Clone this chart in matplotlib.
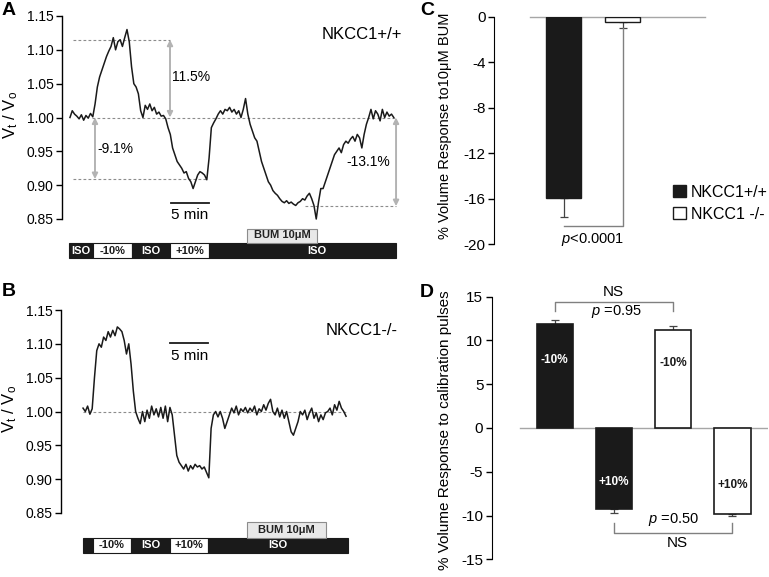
"""Cell volume traces (NKCC1 +/+ and -/-) with BUM / calibration bar summaries."""

import numpy as np
import matplotlib.pyplot as plt
from matplotlib.patches import Rectangle

plt.rcParams['font.family'] = ['Liberation Sans', 'DejaVu Sans']
plt.rcParams['mathtext.fontset'] = 'custom'
plt.rcParams['mathtext.rm'] = 'Liberation Sans'
plt.rcParams['mathtext.it'] = 'Liberation Sans:italic'
plt.rcParams['axes.unicode_minus'] = False

# ---- traces, V_t / V_0 sampled every 0.3 min ----
sample_min = 0.3
trace_a_start = 0.13
trace_a = [
    1.000, 1.010, 1.005, 1.002, 0.998, 1.004, 0.996, 1.003, 0.999, 1.006,
    1.001, 1.020, 1.045, 1.060, 1.070, 1.080, 1.090, 1.098, 1.105, 1.118,
    1.100, 1.112, 1.115, 1.105, 1.118, 1.130, 1.112, 1.075, 1.050, 1.045,
    1.035, 1.010, 1.000, 1.018, 1.012, 1.020, 1.010, 1.015, 1.005, 1.008,
    1.002, 1.003, 0.998, 0.985, 0.975, 0.955, 0.945, 0.935, 0.930, 0.925,
    0.918, 0.920, 0.910, 0.905, 0.895, 0.905, 0.915, 0.920, 0.918, 0.915,
    0.908, 0.940, 0.985, 0.992, 0.998, 1.005, 1.010, 1.005, 1.012, 1.010,
    1.015, 1.008, 1.012, 1.005, 1.010, 1.000, 1.012, 1.028, 1.005, 0.990,
    0.980, 0.970, 0.965, 0.950, 0.935, 0.925, 0.915, 0.905, 0.900, 0.892,
    0.888, 0.885, 0.880, 0.876, 0.874, 0.877, 0.873, 0.875, 0.872, 0.870,
    0.874, 0.876, 0.880, 0.878, 0.884, 0.888, 0.880, 0.870, 0.850, 0.875,
    0.895, 0.895, 0.905, 0.915, 0.925, 0.935, 0.945, 0.950, 0.955, 0.948,
    0.960, 0.965, 0.962, 0.968, 0.972, 0.965, 0.975, 0.970, 0.955, 0.975,
    0.990, 1.000, 1.012, 0.998, 1.010, 1.005, 0.995, 1.012, 1.000, 1.008,
    1.002, 1.005, 1.000,
]
trace_b_start = 1.97
trace_b = [
    1.005, 1.000, 1.008, 0.996, 1.004, 1.050, 1.090, 1.100, 1.095, 1.110,
    1.105, 1.118, 1.110, 1.120, 1.112, 1.125, 1.122, 1.118, 1.105, 1.085,
    1.100, 1.070, 1.030, 1.000, 0.990, 0.982, 1.000, 0.985, 1.002, 0.990,
    1.008, 0.995, 1.004, 0.992, 1.006, 0.990, 1.008, 0.985, 1.006, 0.995,
    0.965, 0.935, 0.925, 0.920, 0.915, 0.922, 0.912, 0.920, 0.915, 0.922,
    0.918, 0.920, 0.915, 0.918, 0.910, 0.902, 0.975, 0.995, 1.000, 0.992,
    1.000, 0.990, 0.975, 0.985, 0.995, 1.005, 0.998, 1.008, 0.995, 1.004,
    1.000, 1.006, 0.998, 1.005, 1.000, 1.008, 0.995, 1.004, 1.000, 1.010,
    1.002, 1.012, 1.018, 1.000, 0.995, 1.005, 0.992, 1.002, 0.990, 1.000,
    0.985, 0.970, 0.965, 0.975, 0.985, 1.000, 0.995, 1.002, 0.988, 0.998,
    1.005, 0.990, 0.998, 0.985, 0.995, 0.988, 0.998, 1.000, 1.005, 0.995,
    1.010, 1.002, 1.015, 1.005, 1.000, 0.993,
]

# ---- perfusion protocol (minutes) ----
proto_a_labels = ["ISO", "-10%", "ISO", "+10%", "ISO"]
proto_a_edges = [0.0, 3.16, 8.29, 13.29, 18.42, 43.03]
proto_a_text_t = [1.58, 5.72, 10.79, 15.86, 32.6]
bum_a = [23.42, 32.63]

proto_b_labels = ["", "-10%", "ISO", "+10%", "ISO"]
proto_b_edges = [1.84, 3.16, 8.16, 13.29, 18.29, 36.71]
proto_b_text_t = [2.5, 5.66, 10.72, 15.79, 27.5]
bum_b = [23.42, 33.82]

# ---- levels marked on trace A ----
peak_level = 1.115
shrink_level = 0.909
bum_level = 0.869

# ---- panel C: response to BUM ----
c_groups = ["NKCC1+/+", "NKCC1 -/-"]
c_values = [-15.9, -0.5]
c_err = [1.7, 0.5]

# ---- panel D: calibration pulses ----
d_labels = ["-10%", "+10%", "-10%", "+10%"]
d_values = [11.85, -9.3, 11.17, -9.78]
d_err = [0.5, 0.37, 0.5, 0.33]

DARK = '#1a1a1a'
W, H = 769, 577
fig = plt.figure(figsize=(W / 100, H / 100), dpi=100)


def px_axes(left, top, right, bottom):
    return fig.add_axes([left / W, 1 - bottom / H, (right - left) / W, (bottom - top) / H])


def style_trace_axes(ax):
    ax.set_xlim(-0.92, 43.55)
    ax.set_ylim(0.85, 1.15)
    ax.set_yticks(np.arange(0.85, 1.151, 0.05))
    ax.set_yticklabels([f"{v:.2f}" for v in np.arange(0.85, 1.151, 0.05)])
    for s in ('top', 'right', 'bottom'):
        ax.spines[s].set_visible(False)
    ax.spines['left'].set_linewidth(1.0)
    ax.set_xticks([])
    ax.tick_params(axis='y', direction='out', length=4, width=1, labelsize=10, pad=2)
    ax.set_ylabel(r"V$_{\rm t}$ / V$_{\rm o}$", fontsize=12)
    ax.yaxis.set_label_coords(-0.125, 0.51)


def draw_protocol(ax, edges, labels, text_t, bum, y0, h):
    ax.set_xlim(-0.92, 43.55)
    ax.set_ylim(0, 2 * y0 + 2 * h)
    ax.axis('off')
    for i, lab in enumerate(labels):
        dark = lab in ("ISO", "")
        ax.add_patch(Rectangle((edges[i], y0), edges[i + 1] - edges[i], h,
                               fc=DARK if dark else 'white', ec=DARK, lw=0.8))
        ax.text(text_t[i], y0 + h / 2, lab, color='white' if dark else DARK,
                ha='center', va='center', fontsize=8, fontweight='bold')
    ax.add_patch(Rectangle((bum[0], y0 + h), bum[1] - bum[0], h - 0.5,
                           fc='#e8e8e8', ec='#8c8c8c', lw=0.8))
    ax.text((bum[0] + bum[1]) / 2, y0 + 1.5 * h, "BUM 10\u03bcM", color='#222222',
            ha='center', va='center', fontsize=8, fontweight='bold')


def scale_bar(ax, y_line, y_text):
    ax.plot([13.42, 18.42], [y_line, y_line], color=DARK, lw=1.3, clip_on=False)
    ax.text(15.92, y_text, "5 min", ha='center', va='center', fontsize=11)


dash = dict(color='#8c8c8c', lw=0.8, ls=(0, (2.5, 2)))
arrow = dict(arrowstyle='<|-|>', color='#b3b3b3', lw=1.4, mutation_scale=8,
             shrinkA=0, shrinkB=0)

# ---------------- panel A ----------------
ax_a = px_axes(62, 16, 400, 219)
t_a = trace_a_start + sample_min * np.arange(len(trace_a))
ax_a.plot([0.53, 13.29], [peak_level] * 2, **dash)
ax_a.plot([3.0, 43.0], [1.0, 1.0], **dash)
ax_a.plot([0.53, 18.1], [shrink_level] * 2, **dash)
ax_a.plot([31.05, 43.0], [bum_level] * 2, **dash, clip_on=False)
ax_a.plot(t_a, trace_a, color=DARK, lw=1.1, clip_on=False)
ax_a.annotate('', xy=(13.29, 1.0), xytext=(13.29, peak_level), arrowprops=arrow)
ax_a.annotate('', xy=(3.42, shrink_level), xytext=(3.42, 1.0), arrowprops=arrow)
ax_a.annotate('', xy=(43.03, bum_level), xytext=(43.03, 1.0), arrowprops=arrow,
              annotation_clip=False)
ax_a.text(13.6, 1.060, f"{(peak_level - 1) * 100:.1f}%", fontsize=10, va='center')
ax_a.text(3.77, 0.953, f"{(shrink_level - 1) * 100:.1f}%", fontsize=10, va='center')
ax_a.text(36.5, 0.934, f"{(bum_level - 1) * 100:.1f}%", fontsize=10, va='center')
ax_a.text(38.5, 1.122, "NKCC1+/+", fontsize=12, ha='center', va='center')
scale_bar(ax_a, 0.8735, 0.856)
style_trace_axes(ax_a)

ax_pa = px_axes(62, 226, 400, 260)
draw_protocol(ax_pa, proto_a_edges, proto_a_labels, proto_a_text_t, bum_a, 2, 15)

# ---------------- panel B ----------------
ax_b = px_axes(61, 310, 400, 513)
t_b = trace_b_start + sample_min * np.arange(len(trace_b))
ax_b.plot([t_b[0], t_b[-1]], [1.0, 1.0], **dash)
ax_b.plot(t_b, trace_b, color=DARK, lw=1.1, clip_on=False)
ax_b.text(38.5, 1.119, "NKCC1-/-", fontsize=12, ha='center', va='center')
scale_bar(ax_b, 1.1015, 1.082)
style_trace_axes(ax_b)

ax_pb = px_axes(62, 520, 400, 555)
draw_protocol(ax_pb, proto_b_edges, proto_b_labels, proto_b_text_t, bum_b, 2, 16)

# ---------------- panel C ----------------
ax_c = px_axes(494, 16.7, 705, 244.3)
xc = np.arange(len(c_values))
bars_c = ax_c.bar(xc, c_values, width=0.595, color=[DARK, 'white'],
                  edgecolor=DARK, lw=1.0, zorder=2)
ax_c.errorbar(xc, c_values, yerr=[c_err, [0, 0]], fmt='none', ecolor='#444444',
              elinewidth=0.9, capsize=3, capthick=0.9, zorder=1.5)
ax_c.axhline(0, xmin=0.171, xmax=1, color='#a6a6a6', lw=1, clip_on=False, zorder=1)
ax_c.plot([0, 1, 1], [-18.4, -18.4, c_values[1] - c_err[1]], color='#808080', lw=1)
ax_c.text(0.48, -19.6, r"$\it{p}$<0.0001", fontsize=10.5, ha='center', va='center')
ax_c.set_xlim(-1.19, 2.40)
ax_c.set_ylim(-20, 0)
ax_c.set_yticks(np.arange(-20, 1, 4))
ax_c.set_xticks([])
for s in ('top', 'right', 'bottom'):
    ax_c.spines[s].set_visible(False)
ax_c.tick_params(axis='y', direction='out', length=4, width=1, labelsize=11, pad=2)
ax_c.set_ylabel("% Volume Response to10\u03bcM BUM", fontsize=10.5)
ax_c.yaxis.set_label_coords(-0.2, 0.52)
ax_c.legend(bars_c, c_groups, loc='center left', bbox_to_anchor=(0.85, 0.181),
            frameon=False, fontsize=11.5, handlelength=0.8, handleheight=0.8,
            handletextpad=0.3, labelspacing=0.45, borderpad=0, borderaxespad=0)

# ---------------- panel D ----------------
ax_d = px_axes(491.7, 296.7, 768, 559.3)
xd = np.arange(len(d_values))
d_colors = [DARK, DARK, 'white', 'white']
ax_d.bar(xd, d_values, width=0.61, color=d_colors, edgecolor=DARK, lw=1.2, zorder=2)
lower = [0 if v > 0 else e for v, e in zip(d_values, d_err)]
upper = [e if v > 0 else 0 for v, e in zip(d_values, d_err)]
ax_d.errorbar(xd, d_values, yerr=[lower, upper], fmt='none', ecolor='#444444',
              elinewidth=0.9, capsize=3, capthick=0.9, zorder=1.5)
for x, v, lab, c in zip(xd, d_values, d_labels, d_colors):
    ax_d.text(x, 0.66 * v, lab, ha='center', va='center', fontsize=8.5,
              fontweight='bold', color='white' if c == DARK else DARK, zorder=3)
ax_d.axhline(0, xmin=0.1025, xmax=1, color='#a6a6a6', lw=1, zorder=1)
ax_d.plot([0, 0, 2, 2], [13.4, 14.35, 14.35, 13.4], color='#808080', lw=1, clip_on=False)
ax_d.plot([1, 1, 3, 3], [-10.8, -11.95, -11.95, -10.8], color='#808080', lw=1)
ax_d.text(0.99, 15.57, "NS", fontsize=11, ha='center', va='center')
ax_d.text(1.05, 13.3, r"$\it{p}$ =0.95", fontsize=10.5, ha='center', va='center')
ax_d.text(2.0, -10.5, r"$\it{p}$ =0.50", fontsize=10.5, ha='center', va='center')
ax_d.text(2.07, -13.1, "NS", fontsize=11, ha='center', va='center')
ax_d.set_xlim(-1.064, 3.60)
ax_d.set_ylim(-15, 15)
ax_d.set_yticks(np.arange(-15, 16, 5))
ax_d.set_xticks([])
for s in ('top', 'right', 'bottom'):
    ax_d.spines[s].set_visible(False)
ax_d.tick_params(axis='y', direction='out', length=4, width=1, labelsize=11, pad=2)
ax_d.set_ylabel("% Volume Response to calibration pulses", fontsize=11)
ax_d.yaxis.set_label_coords(-0.145, 0.49)

# panel letters
for letter, x, y in [("A", 2, 2), ("B", 2, 283), ("C", 420, 2), ("D", 420, 284)]:
    fig.text(x / W, 1 - y / H, letter, fontsize=14, fontweight='bold', va='top', ha='left')

fig.savefig("out.png", dpi=100)
